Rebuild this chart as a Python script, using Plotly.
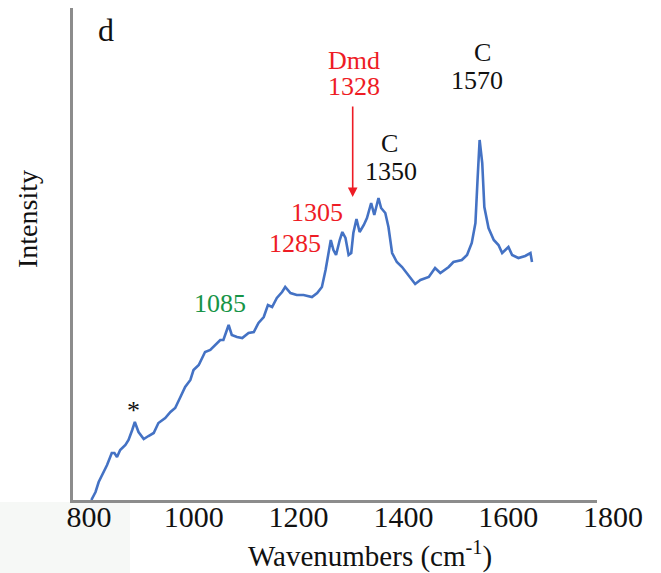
import plotly.graph_objects as go

# Raman spectrum
wavenumber = [835, 843, 849, 858, 865, 874, 879, 884, 890, 900, 906, 913, 918, 925, 935, 944,
              954, 963, 976, 986, 995, 1005, 1014, 1024, 1030, 1040, 1052, 1062, 1072, 1081,
              1087, 1097, 1103, 1113, 1123, 1135, 1145, 1154, 1164, 1172, 1180, 1189, 1199,
              1205, 1215, 1227, 1240, 1256, 1266, 1275, 1282, 1288, 1292, 1297, 1302, 1309,
              1314, 1320, 1326, 1331, 1335, 1341, 1347, 1355, 1361, 1369, 1375, 1383, 1388,
              1396, 1402, 1409, 1418, 1428, 1440, 1453, 1463, 1479, 1491, 1501, 1517, 1526,
              1542, 1552, 1561, 1568, 1572, 1576, 1581, 1585, 1593, 1603, 1612, 1619, 1631,
              1638, 1650, 1663, 1673, 1676]
intensity = [0, 8, 18, 28, 35, 47, 47, 43, 50, 55, 60, 70, 78, 68, 61, 64,
             67, 77, 82, 88, 92, 103, 113, 120, 130, 135, 148, 150, 155, 160,
             160, 175, 165, 163, 162, 167, 168, 177, 183, 195, 193, 202, 208,
             213, 207, 205, 205, 203, 207, 213, 230, 250, 260, 250, 245, 260,
             268, 262, 245, 247, 267, 281, 268, 275, 282, 297, 285, 302, 292,
             287, 273, 247, 238, 233, 225, 216, 220, 223, 232, 227, 233, 238,
             240, 245, 257, 277, 320, 360, 337, 293, 272, 260, 255, 247, 253,
             245, 242, 244, 247, 238]

x_ticks = [800, 1000, 1200, 1400, 1600, 1800]

W, H = 661, 573
L, R, T, B = 73, 597, 8, 500


def px(x):
    return (x - L) / (R - L)


def py(y):
    return (B - y) / (B - T)


fig = go.Figure()
fig.add_trace(go.Scatter(x=wavenumber, y=intensity, mode="lines",
                         line=dict(color="#4472C4", width=2.6), hoverinfo="skip"))

serif = "Liberation Serif, Times New Roman, serif"
RED = "#EE1C25"
GREEN = "#179447"

ann = []


def text(x, y, s, color="#111111", size=26):
    ann.append(dict(text=s, x=px(x), y=py(y), xref="paper", yref="paper",
                    showarrow=False, xanchor="center", yanchor="middle",
                    font=dict(family=serif, size=size, color=color)))


text(106, 30, "d", size=32)
text(354, 61, "Dmd", RED)
text(354, 86, "1328", RED)
text(389, 143, "C")
text(391, 171, "1350")
text(482, 52, "C")
text(477, 80, "1570")
text(317, 212, "1305", RED)
text(295, 243, "1285", RED)
text(220, 303, "1085", GREEN)
text(133, 410, "*", size=26)

# arrow for Dmd 1328
ann.append(dict(text="", x=px(352.7), y=py(197), xref="paper", yref="paper",
                showarrow=True, ax=0, ay=-92, axref="pixel", ayref="pixel",
                arrowhead=2, arrowsize=1.2, arrowwidth=1.6, arrowcolor=RED))

# axis titles
ann.append(dict(text="Wavenumbers (cm<sup>-1</sup>)", x=px(370), y=py(554), xref="paper", yref="paper",
                showarrow=False, xanchor="center", yanchor="middle",
                font=dict(family=serif, size=29, color="#111111")))
ann.append(dict(text="Intensity", x=px(27), y=py(219), xref="paper", yref="paper",
                showarrow=False, xanchor="center", yanchor="middle", textangle=-90,
                font=dict(family=serif, size=28, color="#111111")))

fig.update_layout(
    width=W, height=H,
    margin=dict(l=L, r=W - R, t=T, b=H - B),
    paper_bgcolor="white", plot_bgcolor="white",
    showlegend=False,
    annotations=ann,
    shapes=[dict(type="rect", xref="paper", yref="paper", x0=px(0), x1=px(130),
                 y0=py(502), y1=py(573), fillcolor="#F6F8F6", line=dict(width=0), layer="below")],
    xaxis=dict(range=[800, 1800], tickvals=x_ticks, ticktext=[str(v) for v in x_ticks],
               showgrid=False, zeroline=False, showline=True, linecolor="#8C8C8C", linewidth=3,
               ticks="", ticklabelshift=16, ticklabelstandoff=-12,
               tickfont=dict(family=serif, size=30, color="#111111")),
    yaxis=dict(range=[0, 492], showgrid=False, zeroline=False, showline=True,
               linecolor="#8C8C8C", linewidth=3, showticklabels=False, ticks=""),
)

fig.write_html("out.html")
